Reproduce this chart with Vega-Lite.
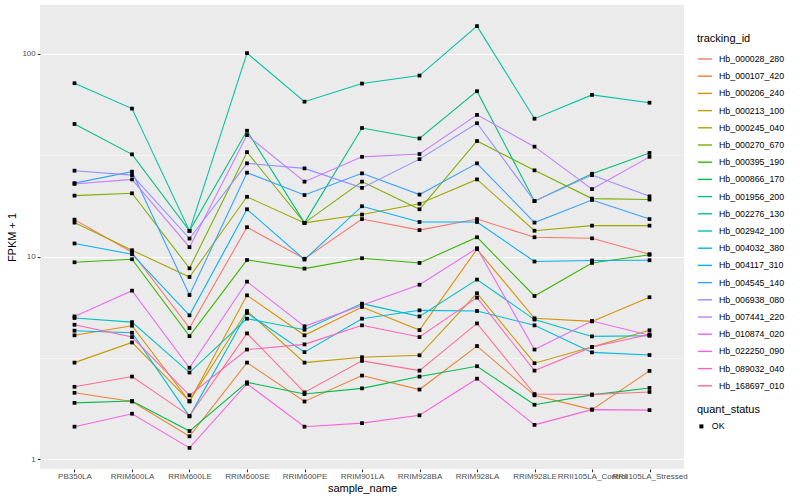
{
  "$schema": "https://vega.github.io/schema/vega-lite/v6.json",
  "width": 644,
  "height": 464,
  "autosize": {"type": "none"},
  "padding": {"left": 40, "top": 5, "right": 116, "bottom": 31},
  "background": "white",
  "config": {
    "view": {"fill": "#EBEBEB", "stroke": null},
    "font": "Liberation Sans",
    "axis": {
      "domain": false,
      "gridColor": "white",
      "gridWidth": 1.07,
      "tickColor": "#333333",
      "tickSize": 2.75,
      "tickWidth": 1.07,
      "labelColor": "#4D4D4D",
      "labelFontSize": 8,
      "labelPadding": 2,
      "titleFontSize": 11,
      "titleFontWeight": "normal",
      "titleColor": "black"
    },
    "legend": {
      "titleFontSize": 11,
      "titleFontWeight": "normal",
      "titleColor": "black",
      "labelFontSize": 8.8,
      "labelColor": "black"
    }
  },
  "datasets": {
    "expr": [
      {"tracking_id":"Hb_000028_280","sample_name":"PB350LA","fpkm":15.2,"quant_status":"OK"},
      {"tracking_id":"Hb_000028_280","sample_name":"RRIM600LA","fpkm":10.5,"quant_status":"OK"},
      {"tracking_id":"Hb_000028_280","sample_name":"RRIM600LE","fpkm":4.44,"quant_status":"OK"},
      {"tracking_id":"Hb_000028_280","sample_name":"RRIM600SE","fpkm":13.95,"quant_status":"OK"},
      {"tracking_id":"Hb_000028_280","sample_name":"RRIM600PE","fpkm":9.75,"quant_status":"OK"},
      {"tracking_id":"Hb_000028_280","sample_name":"RRIM901LA","fpkm":15.3,"quant_status":"OK"},
      {"tracking_id":"Hb_000028_280","sample_name":"RRIM928BA","fpkm":13.5,"quant_status":"OK"},
      {"tracking_id":"Hb_000028_280","sample_name":"RRIM928LA","fpkm":15.3,"quant_status":"OK"},
      {"tracking_id":"Hb_000028_280","sample_name":"RRIM928LE","fpkm":12.45,"quant_status":"OK"},
      {"tracking_id":"Hb_000028_280","sample_name":"RRII105LA_Control","fpkm":12.3,"quant_status":"OK"},
      {"tracking_id":"Hb_000028_280","sample_name":"RRII105LA_Stressed","fpkm":10.27,"quant_status":"OK"},

      {"tracking_id":"Hb_000107_420","sample_name":"PB350LA","fpkm":2.13,"quant_status":"OK"},
      {"tracking_id":"Hb_000107_420","sample_name":"RRIM600LA","fpkm":1.93,"quant_status":"OK"},
      {"tracking_id":"Hb_000107_420","sample_name":"RRIM600LE","fpkm":1.30,"quant_status":"OK"},
      {"tracking_id":"Hb_000107_420","sample_name":"RRIM600SE","fpkm":3.00,"quant_status":"OK"},
      {"tracking_id":"Hb_000107_420","sample_name":"RRIM600PE","fpkm":1.93,"quant_status":"OK"},
      {"tracking_id":"Hb_000107_420","sample_name":"RRIM901LA","fpkm":2.59,"quant_status":"OK"},
      {"tracking_id":"Hb_000107_420","sample_name":"RRIM928BA","fpkm":2.21,"quant_status":"OK"},
      {"tracking_id":"Hb_000107_420","sample_name":"RRIM928LA","fpkm":3.62,"quant_status":"OK"},
      {"tracking_id":"Hb_000107_420","sample_name":"RRIM928LE","fpkm":2.07,"quant_status":"OK"},
      {"tracking_id":"Hb_000107_420","sample_name":"RRII105LA_Control","fpkm":1.76,"quant_status":"OK"},
      {"tracking_id":"Hb_000107_420","sample_name":"RRII105LA_Stressed","fpkm":2.73,"quant_status":"OK"},

      {"tracking_id":"Hb_000206_240","sample_name":"PB350LA","fpkm":4.09,"quant_status":"OK"},
      {"tracking_id":"Hb_000206_240","sample_name":"RRIM600LA","fpkm":4.56,"quant_status":"OK"},
      {"tracking_id":"Hb_000206_240","sample_name":"RRIM600LE","fpkm":1.93,"quant_status":"OK"},
      {"tracking_id":"Hb_000206_240","sample_name":"RRIM600SE","fpkm":6.44,"quant_status":"OK"},
      {"tracking_id":"Hb_000206_240","sample_name":"RRIM600PE","fpkm":4.09,"quant_status":"OK"},
      {"tracking_id":"Hb_000206_240","sample_name":"RRIM901LA","fpkm":5.64,"quant_status":"OK"},
      {"tracking_id":"Hb_000206_240","sample_name":"RRIM928BA","fpkm":4.34,"quant_status":"OK"},
      {"tracking_id":"Hb_000206_240","sample_name":"RRIM928LA","fpkm":10.87,"quant_status":"OK"},
      {"tracking_id":"Hb_000206_240","sample_name":"RRIM928LE","fpkm":4.96,"quant_status":"OK"},
      {"tracking_id":"Hb_000206_240","sample_name":"RRII105LA_Control","fpkm":4.79,"quant_status":"OK"},
      {"tracking_id":"Hb_000206_240","sample_name":"RRII105LA_Stressed","fpkm":6.30,"quant_status":"OK"},

      {"tracking_id":"Hb_000213_100","sample_name":"PB350LA","fpkm":3.00,"quant_status":"OK"},
      {"tracking_id":"Hb_000213_100","sample_name":"RRIM600LA","fpkm":3.77,"quant_status":"OK"},
      {"tracking_id":"Hb_000213_100","sample_name":"RRIM600LE","fpkm":1.94,"quant_status":"OK"},
      {"tracking_id":"Hb_000213_100","sample_name":"RRIM600SE","fpkm":5.39,"quant_status":"OK"},
      {"tracking_id":"Hb_000213_100","sample_name":"RRIM600PE","fpkm":3.00,"quant_status":"OK"},
      {"tracking_id":"Hb_000213_100","sample_name":"RRIM901LA","fpkm":3.19,"quant_status":"OK"},
      {"tracking_id":"Hb_000213_100","sample_name":"RRIM928BA","fpkm":3.26,"quant_status":"OK"},
      {"tracking_id":"Hb_000213_100","sample_name":"RRIM928LA","fpkm":6.59,"quant_status":"OK"},
      {"tracking_id":"Hb_000213_100","sample_name":"RRIM928LE","fpkm":2.98,"quant_status":"OK"},
      {"tracking_id":"Hb_000213_100","sample_name":"RRII105LA_Control","fpkm":3.58,"quant_status":"OK"},
      {"tracking_id":"Hb_000213_100","sample_name":"RRII105LA_Stressed","fpkm":4.33,"quant_status":"OK"},

      {"tracking_id":"Hb_000245_040","sample_name":"PB350LA","fpkm":14.7,"quant_status":"OK"},
      {"tracking_id":"Hb_000245_040","sample_name":"RRIM600LA","fpkm":10.74,"quant_status":"OK"},
      {"tracking_id":"Hb_000245_040","sample_name":"RRIM600LE","fpkm":7.93,"quant_status":"OK"},
      {"tracking_id":"Hb_000245_040","sample_name":"RRIM600SE","fpkm":19.7,"quant_status":"OK"},
      {"tracking_id":"Hb_000245_040","sample_name":"RRIM600PE","fpkm":14.65,"quant_status":"OK"},
      {"tracking_id":"Hb_000245_040","sample_name":"RRIM901LA","fpkm":16.1,"quant_status":"OK"},
      {"tracking_id":"Hb_000245_040","sample_name":"RRIM928BA","fpkm":18.2,"quant_status":"OK"},
      {"tracking_id":"Hb_000245_040","sample_name":"RRIM928LA","fpkm":24.0,"quant_status":"OK"},
      {"tracking_id":"Hb_000245_040","sample_name":"RRIM928LE","fpkm":13.4,"quant_status":"OK"},
      {"tracking_id":"Hb_000245_040","sample_name":"RRII105LA_Control","fpkm":14.2,"quant_status":"OK"},
      {"tracking_id":"Hb_000245_040","sample_name":"RRII105LA_Stressed","fpkm":14.2,"quant_status":"OK"},

      {"tracking_id":"Hb_000270_670","sample_name":"PB350LA","fpkm":19.96,"quant_status":"OK"},
      {"tracking_id":"Hb_000270_670","sample_name":"RRIM600LA","fpkm":20.5,"quant_status":"OK"},
      {"tracking_id":"Hb_000270_670","sample_name":"RRIM600LE","fpkm":8.75,"quant_status":"OK"},
      {"tracking_id":"Hb_000270_670","sample_name":"RRIM600SE","fpkm":32.7,"quant_status":"OK"},
      {"tracking_id":"Hb_000270_670","sample_name":"RRIM600PE","fpkm":14.65,"quant_status":"OK"},
      {"tracking_id":"Hb_000270_670","sample_name":"RRIM901LA","fpkm":23.4,"quant_status":"OK"},
      {"tracking_id":"Hb_000270_670","sample_name":"RRIM928BA","fpkm":17.1,"quant_status":"OK"},
      {"tracking_id":"Hb_000270_670","sample_name":"RRIM928LA","fpkm":37.1,"quant_status":"OK"},
      {"tracking_id":"Hb_000270_670","sample_name":"RRIM928LE","fpkm":26.6,"quant_status":"OK"},
      {"tracking_id":"Hb_000270_670","sample_name":"RRII105LA_Control","fpkm":19.3,"quant_status":"OK"},
      {"tracking_id":"Hb_000270_670","sample_name":"RRII105LA_Stressed","fpkm":19.1,"quant_status":"OK"},

      {"tracking_id":"Hb_000395_190","sample_name":"PB350LA","fpkm":9.37,"quant_status":"OK"},
      {"tracking_id":"Hb_000395_190","sample_name":"RRIM600LA","fpkm":9.70,"quant_status":"OK"},
      {"tracking_id":"Hb_000395_190","sample_name":"RRIM600LE","fpkm":4.05,"quant_status":"OK"},
      {"tracking_id":"Hb_000395_190","sample_name":"RRIM600SE","fpkm":9.62,"quant_status":"OK"},
      {"tracking_id":"Hb_000395_190","sample_name":"RRIM600PE","fpkm":8.72,"quant_status":"OK"},
      {"tracking_id":"Hb_000395_190","sample_name":"RRIM901LA","fpkm":9.81,"quant_status":"OK"},
      {"tracking_id":"Hb_000395_190","sample_name":"RRIM928BA","fpkm":9.30,"quant_status":"OK"},
      {"tracking_id":"Hb_000395_190","sample_name":"RRIM928LA","fpkm":12.45,"quant_status":"OK"},
      {"tracking_id":"Hb_000395_190","sample_name":"RRIM928LE","fpkm":6.39,"quant_status":"OK"},
      {"tracking_id":"Hb_000395_190","sample_name":"RRII105LA_Control","fpkm":9.30,"quant_status":"OK"},
      {"tracking_id":"Hb_000395_190","sample_name":"RRII105LA_Stressed","fpkm":10.2,"quant_status":"OK"},

      {"tracking_id":"Hb_000866_170","sample_name":"PB350LA","fpkm":1.90,"quant_status":"OK"},
      {"tracking_id":"Hb_000866_170","sample_name":"RRIM600LA","fpkm":1.94,"quant_status":"OK"},
      {"tracking_id":"Hb_000866_170","sample_name":"RRIM600LE","fpkm":1.38,"quant_status":"OK"},
      {"tracking_id":"Hb_000866_170","sample_name":"RRIM600SE","fpkm":2.40,"quant_status":"OK"},
      {"tracking_id":"Hb_000866_170","sample_name":"RRIM600PE","fpkm":2.10,"quant_status":"OK"},
      {"tracking_id":"Hb_000866_170","sample_name":"RRIM901LA","fpkm":2.24,"quant_status":"OK"},
      {"tracking_id":"Hb_000866_170","sample_name":"RRIM928BA","fpkm":2.56,"quant_status":"OK"},
      {"tracking_id":"Hb_000866_170","sample_name":"RRIM928LA","fpkm":2.88,"quant_status":"OK"},
      {"tracking_id":"Hb_000866_170","sample_name":"RRIM928LE","fpkm":1.86,"quant_status":"OK"},
      {"tracking_id":"Hb_000866_170","sample_name":"RRII105LA_Control","fpkm":2.08,"quant_status":"OK"},
      {"tracking_id":"Hb_000866_170","sample_name":"RRII105LA_Stressed","fpkm":2.25,"quant_status":"OK"},

      {"tracking_id":"Hb_001956_200","sample_name":"PB350LA","fpkm":45.0,"quant_status":"OK"},
      {"tracking_id":"Hb_001956_200","sample_name":"RRIM600LA","fpkm":31.9,"quant_status":"OK"},
      {"tracking_id":"Hb_001956_200","sample_name":"RRIM600LE","fpkm":13.38,"quant_status":"OK"},
      {"tracking_id":"Hb_001956_200","sample_name":"RRIM600SE","fpkm":41.7,"quant_status":"OK"},
      {"tracking_id":"Hb_001956_200","sample_name":"RRIM600PE","fpkm":14.65,"quant_status":"OK"},
      {"tracking_id":"Hb_001956_200","sample_name":"RRIM901LA","fpkm":43.0,"quant_status":"OK"},
      {"tracking_id":"Hb_001956_200","sample_name":"RRIM928BA","fpkm":38.2,"quant_status":"OK"},
      {"tracking_id":"Hb_001956_200","sample_name":"RRIM928LA","fpkm":65.3,"quant_status":"OK"},
      {"tracking_id":"Hb_001956_200","sample_name":"RRIM928LE","fpkm":18.75,"quant_status":"OK"},
      {"tracking_id":"Hb_001956_200","sample_name":"RRII105LA_Control","fpkm":25.6,"quant_status":"OK"},
      {"tracking_id":"Hb_001956_200","sample_name":"RRII105LA_Stressed","fpkm":32.4,"quant_status":"OK"},

      {"tracking_id":"Hb_002276_130","sample_name":"PB350LA","fpkm":71.5,"quant_status":"OK"},
      {"tracking_id":"Hb_002276_130","sample_name":"RRIM600LA","fpkm":53.6,"quant_status":"OK"},
      {"tracking_id":"Hb_002276_130","sample_name":"RRIM600LE","fpkm":13.38,"quant_status":"OK"},
      {"tracking_id":"Hb_002276_130","sample_name":"RRIM600SE","fpkm":100.6,"quant_status":"OK"},
      {"tracking_id":"Hb_002276_130","sample_name":"RRIM600PE","fpkm":58.0,"quant_status":"OK"},
      {"tracking_id":"Hb_002276_130","sample_name":"RRIM901LA","fpkm":71.2,"quant_status":"OK"},
      {"tracking_id":"Hb_002276_130","sample_name":"RRIM928BA","fpkm":78.0,"quant_status":"OK"},
      {"tracking_id":"Hb_002276_130","sample_name":"RRIM928LA","fpkm":136.7,"quant_status":"OK"},
      {"tracking_id":"Hb_002276_130","sample_name":"RRIM928LE","fpkm":47.8,"quant_status":"OK"},
      {"tracking_id":"Hb_002276_130","sample_name":"RRII105LA_Control","fpkm":62.6,"quant_status":"OK"},
      {"tracking_id":"Hb_002276_130","sample_name":"RRII105LA_Stressed","fpkm":57.3,"quant_status":"OK"},

      {"tracking_id":"Hb_002942_100","sample_name":"PB350LA","fpkm":4.98,"quant_status":"OK"},
      {"tracking_id":"Hb_002942_100","sample_name":"RRIM600LA","fpkm":4.75,"quant_status":"OK"},
      {"tracking_id":"Hb_002942_100","sample_name":"RRIM600LE","fpkm":2.68,"quant_status":"OK"},
      {"tracking_id":"Hb_002942_100","sample_name":"RRIM600SE","fpkm":4.94,"quant_status":"OK"},
      {"tracking_id":"Hb_002942_100","sample_name":"RRIM600PE","fpkm":4.36,"quant_status":"OK"},
      {"tracking_id":"Hb_002942_100","sample_name":"RRIM901LA","fpkm":5.86,"quant_status":"OK"},
      {"tracking_id":"Hb_002942_100","sample_name":"RRIM928BA","fpkm":5.07,"quant_status":"OK"},
      {"tracking_id":"Hb_002942_100","sample_name":"RRIM928LA","fpkm":7.70,"quant_status":"OK"},
      {"tracking_id":"Hb_002942_100","sample_name":"RRIM928LE","fpkm":4.89,"quant_status":"OK"},
      {"tracking_id":"Hb_002942_100","sample_name":"RRII105LA_Control","fpkm":4.04,"quant_status":"OK"},
      {"tracking_id":"Hb_002942_100","sample_name":"RRII105LA_Stressed","fpkm":4.07,"quant_status":"OK"},

      {"tracking_id":"Hb_004032_380","sample_name":"PB350LA","fpkm":4.31,"quant_status":"OK"},
      {"tracking_id":"Hb_004032_380","sample_name":"RRIM600LA","fpkm":4.21,"quant_status":"OK"},
      {"tracking_id":"Hb_004032_380","sample_name":"RRIM600LE","fpkm":1.63,"quant_status":"OK"},
      {"tracking_id":"Hb_004032_380","sample_name":"RRIM600SE","fpkm":5.27,"quant_status":"OK"},
      {"tracking_id":"Hb_004032_380","sample_name":"RRIM600PE","fpkm":3.38,"quant_status":"OK"},
      {"tracking_id":"Hb_004032_380","sample_name":"RRIM901LA","fpkm":4.94,"quant_status":"OK"},
      {"tracking_id":"Hb_004032_380","sample_name":"RRIM928BA","fpkm":5.43,"quant_status":"OK"},
      {"tracking_id":"Hb_004032_380","sample_name":"RRIM928LA","fpkm":5.39,"quant_status":"OK"},
      {"tracking_id":"Hb_004032_380","sample_name":"RRIM928LE","fpkm":4.58,"quant_status":"OK"},
      {"tracking_id":"Hb_004032_380","sample_name":"RRII105LA_Control","fpkm":3.37,"quant_status":"OK"},
      {"tracking_id":"Hb_004032_380","sample_name":"RRII105LA_Stressed","fpkm":3.27,"quant_status":"OK"},

      {"tracking_id":"Hb_004117_310","sample_name":"PB350LA","fpkm":11.6,"quant_status":"OK"},
      {"tracking_id":"Hb_004117_310","sample_name":"RRIM600LA","fpkm":10.27,"quant_status":"OK"},
      {"tracking_id":"Hb_004117_310","sample_name":"RRIM600LE","fpkm":5.13,"quant_status":"OK"},
      {"tracking_id":"Hb_004117_310","sample_name":"RRIM600SE","fpkm":17.1,"quant_status":"OK"},
      {"tracking_id":"Hb_004117_310","sample_name":"RRIM600PE","fpkm":9.66,"quant_status":"OK"},
      {"tracking_id":"Hb_004117_310","sample_name":"RRIM901LA","fpkm":17.7,"quant_status":"OK"},
      {"tracking_id":"Hb_004117_310","sample_name":"RRIM928BA","fpkm":14.8,"quant_status":"OK"},
      {"tracking_id":"Hb_004117_310","sample_name":"RRIM928LA","fpkm":14.8,"quant_status":"OK"},
      {"tracking_id":"Hb_004117_310","sample_name":"RRIM928LE","fpkm":9.45,"quant_status":"OK"},
      {"tracking_id":"Hb_004117_310","sample_name":"RRII105LA_Control","fpkm":9.56,"quant_status":"OK"},
      {"tracking_id":"Hb_004117_310","sample_name":"RRII105LA_Stressed","fpkm":9.59,"quant_status":"OK"},

      {"tracking_id":"Hb_004545_140","sample_name":"PB350LA","fpkm":23.0,"quant_status":"OK"},
      {"tracking_id":"Hb_004545_140","sample_name":"RRIM600LA","fpkm":26.2,"quant_status":"OK"},
      {"tracking_id":"Hb_004545_140","sample_name":"RRIM600LE","fpkm":6.46,"quant_status":"OK"},
      {"tracking_id":"Hb_004545_140","sample_name":"RRIM600SE","fpkm":25.9,"quant_status":"OK"},
      {"tracking_id":"Hb_004545_140","sample_name":"RRIM600PE","fpkm":20.1,"quant_status":"OK"},
      {"tracking_id":"Hb_004545_140","sample_name":"RRIM901LA","fpkm":25.7,"quant_status":"OK"},
      {"tracking_id":"Hb_004545_140","sample_name":"RRIM928BA","fpkm":20.2,"quant_status":"OK"},
      {"tracking_id":"Hb_004545_140","sample_name":"RRIM928LA","fpkm":28.8,"quant_status":"OK"},
      {"tracking_id":"Hb_004545_140","sample_name":"RRIM928LE","fpkm":14.7,"quant_status":"OK"},
      {"tracking_id":"Hb_004545_140","sample_name":"RRII105LA_Control","fpkm":19.0,"quant_status":"OK"},
      {"tracking_id":"Hb_004545_140","sample_name":"RRII105LA_Stressed","fpkm":15.3,"quant_status":"OK"},

      {"tracking_id":"Hb_006938_080","sample_name":"PB350LA","fpkm":26.5,"quant_status":"OK"},
      {"tracking_id":"Hb_006938_080","sample_name":"RRIM600LA","fpkm":25.2,"quant_status":"OK"},
      {"tracking_id":"Hb_006938_080","sample_name":"RRIM600LE","fpkm":12.27,"quant_status":"OK"},
      {"tracking_id":"Hb_006938_080","sample_name":"RRIM600SE","fpkm":28.8,"quant_status":"OK"},
      {"tracking_id":"Hb_006938_080","sample_name":"RRIM600PE","fpkm":27.2,"quant_status":"OK"},
      {"tracking_id":"Hb_006938_080","sample_name":"RRIM901LA","fpkm":21.8,"quant_status":"OK"},
      {"tracking_id":"Hb_006938_080","sample_name":"RRIM928BA","fpkm":30.2,"quant_status":"OK"},
      {"tracking_id":"Hb_006938_080","sample_name":"RRIM928LA","fpkm":45.4,"quant_status":"OK"},
      {"tracking_id":"Hb_006938_080","sample_name":"RRIM928LE","fpkm":18.75,"quant_status":"OK"},
      {"tracking_id":"Hb_006938_080","sample_name":"RRII105LA_Control","fpkm":25.2,"quant_status":"OK"},
      {"tracking_id":"Hb_006938_080","sample_name":"RRII105LA_Stressed","fpkm":19.8,"quant_status":"OK"},

      {"tracking_id":"Hb_007441_220","sample_name":"PB350LA","fpkm":22.8,"quant_status":"OK"},
      {"tracking_id":"Hb_007441_220","sample_name":"RRIM600LA","fpkm":24.0,"quant_status":"OK"},
      {"tracking_id":"Hb_007441_220","sample_name":"RRIM600LE","fpkm":11.12,"quant_status":"OK"},
      {"tracking_id":"Hb_007441_220","sample_name":"RRIM600SE","fpkm":39.7,"quant_status":"OK"},
      {"tracking_id":"Hb_007441_220","sample_name":"RRIM600PE","fpkm":23.4,"quant_status":"OK"},
      {"tracking_id":"Hb_007441_220","sample_name":"RRIM901LA","fpkm":31.0,"quant_status":"OK"},
      {"tracking_id":"Hb_007441_220","sample_name":"RRIM928BA","fpkm":32.0,"quant_status":"OK"},
      {"tracking_id":"Hb_007441_220","sample_name":"RRIM928LA","fpkm":49.9,"quant_status":"OK"},
      {"tracking_id":"Hb_007441_220","sample_name":"RRIM928LE","fpkm":34.8,"quant_status":"OK"},
      {"tracking_id":"Hb_007441_220","sample_name":"RRII105LA_Control","fpkm":21.5,"quant_status":"OK"},
      {"tracking_id":"Hb_007441_220","sample_name":"RRII105LA_Stressed","fpkm":31.0,"quant_status":"OK"},

      {"tracking_id":"Hb_010874_020","sample_name":"PB350LA","fpkm":5.07,"quant_status":"OK"},
      {"tracking_id":"Hb_010874_020","sample_name":"RRIM600LA","fpkm":6.79,"quant_status":"OK"},
      {"tracking_id":"Hb_010874_020","sample_name":"RRIM600LE","fpkm":2.83,"quant_status":"OK"},
      {"tracking_id":"Hb_010874_020","sample_name":"RRIM600SE","fpkm":7.52,"quant_status":"OK"},
      {"tracking_id":"Hb_010874_020","sample_name":"RRIM600PE","fpkm":4.53,"quant_status":"OK"},
      {"tracking_id":"Hb_010874_020","sample_name":"RRIM901LA","fpkm":5.75,"quant_status":"OK"},
      {"tracking_id":"Hb_010874_020","sample_name":"RRIM928BA","fpkm":7.26,"quant_status":"OK"},
      {"tracking_id":"Hb_010874_020","sample_name":"RRIM928LA","fpkm":10.99,"quant_status":"OK"},
      {"tracking_id":"Hb_010874_020","sample_name":"RRIM928LE","fpkm":3.48,"quant_status":"OK"},
      {"tracking_id":"Hb_010874_020","sample_name":"RRII105LA_Control","fpkm":4.81,"quant_status":"OK"},
      {"tracking_id":"Hb_010874_020","sample_name":"RRII105LA_Stressed","fpkm":4.09,"quant_status":"OK"},

      {"tracking_id":"Hb_022250_090","sample_name":"PB350LA","fpkm":1.45,"quant_status":"OK"},
      {"tracking_id":"Hb_022250_090","sample_name":"RRIM600LA","fpkm":1.68,"quant_status":"OK"},
      {"tracking_id":"Hb_022250_090","sample_name":"RRIM600LE","fpkm":1.14,"quant_status":"OK"},
      {"tracking_id":"Hb_022250_090","sample_name":"RRIM600SE","fpkm":2.36,"quant_status":"OK"},
      {"tracking_id":"Hb_022250_090","sample_name":"RRIM600PE","fpkm":1.45,"quant_status":"OK"},
      {"tracking_id":"Hb_022250_090","sample_name":"RRIM901LA","fpkm":1.51,"quant_status":"OK"},
      {"tracking_id":"Hb_022250_090","sample_name":"RRIM928BA","fpkm":1.65,"quant_status":"OK"},
      {"tracking_id":"Hb_022250_090","sample_name":"RRIM928LA","fpkm":2.50,"quant_status":"OK"},
      {"tracking_id":"Hb_022250_090","sample_name":"RRIM928LE","fpkm":1.48,"quant_status":"OK"},
      {"tracking_id":"Hb_022250_090","sample_name":"RRII105LA_Control","fpkm":1.76,"quant_status":"OK"},
      {"tracking_id":"Hb_022250_090","sample_name":"RRII105LA_Stressed","fpkm":1.75,"quant_status":"OK"},

      {"tracking_id":"Hb_089032_040","sample_name":"PB350LA","fpkm":4.61,"quant_status":"OK"},
      {"tracking_id":"Hb_089032_040","sample_name":"RRIM600LA","fpkm":4.01,"quant_status":"OK"},
      {"tracking_id":"Hb_089032_040","sample_name":"RRIM600LE","fpkm":2.07,"quant_status":"OK"},
      {"tracking_id":"Hb_089032_040","sample_name":"RRIM600SE","fpkm":3.48,"quant_status":"OK"},
      {"tracking_id":"Hb_089032_040","sample_name":"RRIM600PE","fpkm":3.69,"quant_status":"OK"},
      {"tracking_id":"Hb_089032_040","sample_name":"RRIM901LA","fpkm":4.58,"quant_status":"OK"},
      {"tracking_id":"Hb_089032_040","sample_name":"RRIM928BA","fpkm":4.01,"quant_status":"OK"},
      {"tracking_id":"Hb_089032_040","sample_name":"RRIM928LA","fpkm":6.27,"quant_status":"OK"},
      {"tracking_id":"Hb_089032_040","sample_name":"RRIM928LE","fpkm":2.74,"quant_status":"OK"},
      {"tracking_id":"Hb_089032_040","sample_name":"RRII105LA_Control","fpkm":3.58,"quant_status":"OK"},
      {"tracking_id":"Hb_089032_040","sample_name":"RRII105LA_Stressed","fpkm":4.13,"quant_status":"OK"},

      {"tracking_id":"Hb_168697_010","sample_name":"PB350LA","fpkm":2.28,"quant_status":"OK"},
      {"tracking_id":"Hb_168697_010","sample_name":"RRIM600LA","fpkm":2.56,"quant_status":"OK"},
      {"tracking_id":"Hb_168697_010","sample_name":"RRIM600LE","fpkm":1.64,"quant_status":"OK"},
      {"tracking_id":"Hb_168697_010","sample_name":"RRIM600SE","fpkm":4.18,"quant_status":"OK"},
      {"tracking_id":"Hb_168697_010","sample_name":"RRIM600PE","fpkm":2.14,"quant_status":"OK"},
      {"tracking_id":"Hb_168697_010","sample_name":"RRIM901LA","fpkm":3.06,"quant_status":"OK"},
      {"tracking_id":"Hb_168697_010","sample_name":"RRIM928BA","fpkm":2.74,"quant_status":"OK"},
      {"tracking_id":"Hb_168697_010","sample_name":"RRIM928LA","fpkm":4.68,"quant_status":"OK"},
      {"tracking_id":"Hb_168697_010","sample_name":"RRIM928LE","fpkm":2.10,"quant_status":"OK"},
      {"tracking_id":"Hb_168697_010","sample_name":"RRII105LA_Control","fpkm":2.09,"quant_status":"OK"},
      {"tracking_id":"Hb_168697_010","sample_name":"RRII105LA_Stressed","fpkm":2.15,"quant_status":"OK"}
    ]
  },
  "data": {"name": "expr"},
  "encoding": {
    "x": {
      "field": "sample_name",
      "type": "ordinal",
      "sort": ["PB350LA","RRIM600LA","RRIM600LE","RRIM600SE","RRIM600PE","RRIM901LA","RRIM928BA","RRIM928LA","RRIM928LE","RRII105LA_Control","RRII105LA_Stressed"],
      "scale": {"type": "point", "padding": 0.6},
      "axis": {"title": "sample_name", "labelAngle": 0, "labelOverlap": false, "labelPadding": 1, "titlePadding": 2}
    },
    "y": {
      "field": "fpkm",
      "type": "quantitative",
      "scale": {"type": "log", "domain": [0.897, 173.7], "nice": false, "zero": false},
      "axis": {
        "title": "FPKM + 1",
        "values": [1, 3.1623, 10, 31.623, 100],
        "labelExpr": "datum.value == 1 ? '1' : datum.value == 10 ? '10' : datum.value == 100 ? '100' : ''",
        "gridWidth": {"condition": {"test": "datum.value == 1 || datum.value == 10 || datum.value == 100", "value": 1.07}, "value": 0.53},
        "tickOpacity": {"condition": {"test": "datum.value == 1 || datum.value == 10 || datum.value == 100", "value": 1}, "value": 0},
        "titlePadding": 4
      }
    }
  },
  "layer": [
    {
      "mark": {"type": "line", "strokeWidth": 1.07},
      "encoding": {
        "color": {
          "field": "tracking_id",
          "type": "nominal",
          "scale": {"range": ["#F8766D","#EA8331","#D89000","#C09B00","#A3A500","#7CAE00","#39B600","#00BB4E","#00BF7D","#00C1A3","#00BFC4","#00BAE0","#00B0F6","#35A2FF","#9590FF","#C77CFF","#E76BF3","#FA62DB","#FF62BC","#FF6C91"]},
          "legend": {
            "orient": "none",
            "legendX": 657,
            "legendY": 28,
            "title": "tracking_id",
            "symbolType": "stroke",
            "symbolSize": 200,
            "symbolStrokeWidth": 1.4,
            "rowPadding": 4.2,
            "titlePadding": 7,
            "labelOffset": 6
          }
        }
      }
    },
    {
      "mark": {"type": "point", "filled": true, "color": "black", "size": 14, "opacity": 1},
      "encoding": {
        "shape": {
          "field": "quant_status",
          "type": "nominal",
          "scale": {"range": ["square"]},
          "legend": {
            "orient": "none",
            "legendX": 657,
            "legendY": 399,
            "title": "quant_status",
            "titlePadding": 7,
            "labelOffset": 6,
            "symbolSize": 16
          }
        }
      }
    }
  ]
}
